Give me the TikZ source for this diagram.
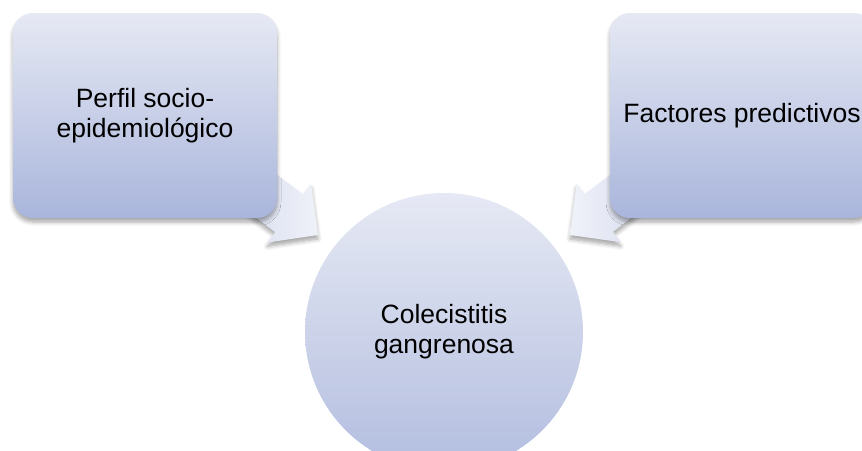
\documentclass[tikz,border=0pt]{standalone}
\usepackage{fontspec}
\setmainfont{Liberation Sans}
\usetikzlibrary{calc,backgrounds,shadows.blur}

\definecolor{paletop}{HTML}{E6E9F4}
\definecolor{palebottom}{HTML}{A9B5DB}
\definecolor{arrowlight}{HTML}{F0F2F9}
\definecolor{arrowdark}{HTML}{D2D8ED}

\tikzset{
  softshadow/.style={blur shadow={shadow xshift=0pt,shadow yshift=-4pt,shadow blur steps=6,shadow blur radius=4pt,shadow opacity=35}},
  topicbox/.style={rectangle,rounded corners=20pt,minimum width=264pt,minimum height=205pt,
    top color=paletop,bottom color=palebottom,draw=none,softshadow,
    align=center,font=\fontsize{26.5}{30}\selectfont,inner sep=0pt},
  hubnode/.style={circle,minimum size=278pt,top color=paletop,bottom color=palebottom!85!paletop,
    draw=none,align=center,font=\fontsize{26.5}{30}\selectfont,inner sep=0pt},
  blockarrow/.style={draw=none,softshadow},
}

\begin{document}
\begin{tikzpicture}[x=1pt,y=-1pt]
\useasboundingbox (0,0) rectangle (862,450);

% Text Node
\node[topicbox] (perfil) at (145,115.5) {Perfil socio-\\epidemiológico};
% Text Node
\node[topicbox] (factores) at (742,115.5) {Factores predictivos};
% Text Node
\node[hubnode] (colecist) at (444,332) {Colecistitis\\gangrenosa};

%Block arrows, behind the boxes
\coordinate (tailL) at ($(perfil.south east)+(-44,-47)$);
\coordinate (tipL) at ($(colecist.center)+(-126,-97)$);
\coordinate (tailR) at ($(factores.south west)+(44,-47)$);
\coordinate (tipR) at ($(colecist.center)+(126,-97)$);
\coordinate (baseL) at ($(tipL)!36pt!(tailL)$);
\coordinate (baseR) at ($(tipR)!36pt!(tailR)$);

\begin{pgfonlayer}{background}
\path[blockarrow,left color=arrowdark,right color=arrowlight]
  ($(tailL)!23.5pt!90:(tipL)$) -- ($(baseL)!23.5pt!90:(tipL)$) -- ($(baseL)!36.5pt!90:(tipL)$)
  -- (tipL) -- ($(baseL)!36.5pt!-90:(tipL)$) -- ($(baseL)!23.5pt!-90:(tipL)$)
  -- ($(tailL)!23.5pt!-90:(tipL)$) -- cycle;
\path[blockarrow,left color=arrowlight,right color=arrowdark]
  ($(tailR)!23.5pt!90:(tipR)$) -- ($(baseR)!23.5pt!90:(tipR)$) -- ($(baseR)!36.5pt!90:(tipR)$)
  -- (tipR) -- ($(baseR)!36.5pt!-90:(tipR)$) -- ($(baseR)!23.5pt!-90:(tipR)$)
  -- ($(tailR)!23.5pt!-90:(tipR)$) -- cycle;
\end{pgfonlayer}

\end{tikzpicture}
\end{document}
